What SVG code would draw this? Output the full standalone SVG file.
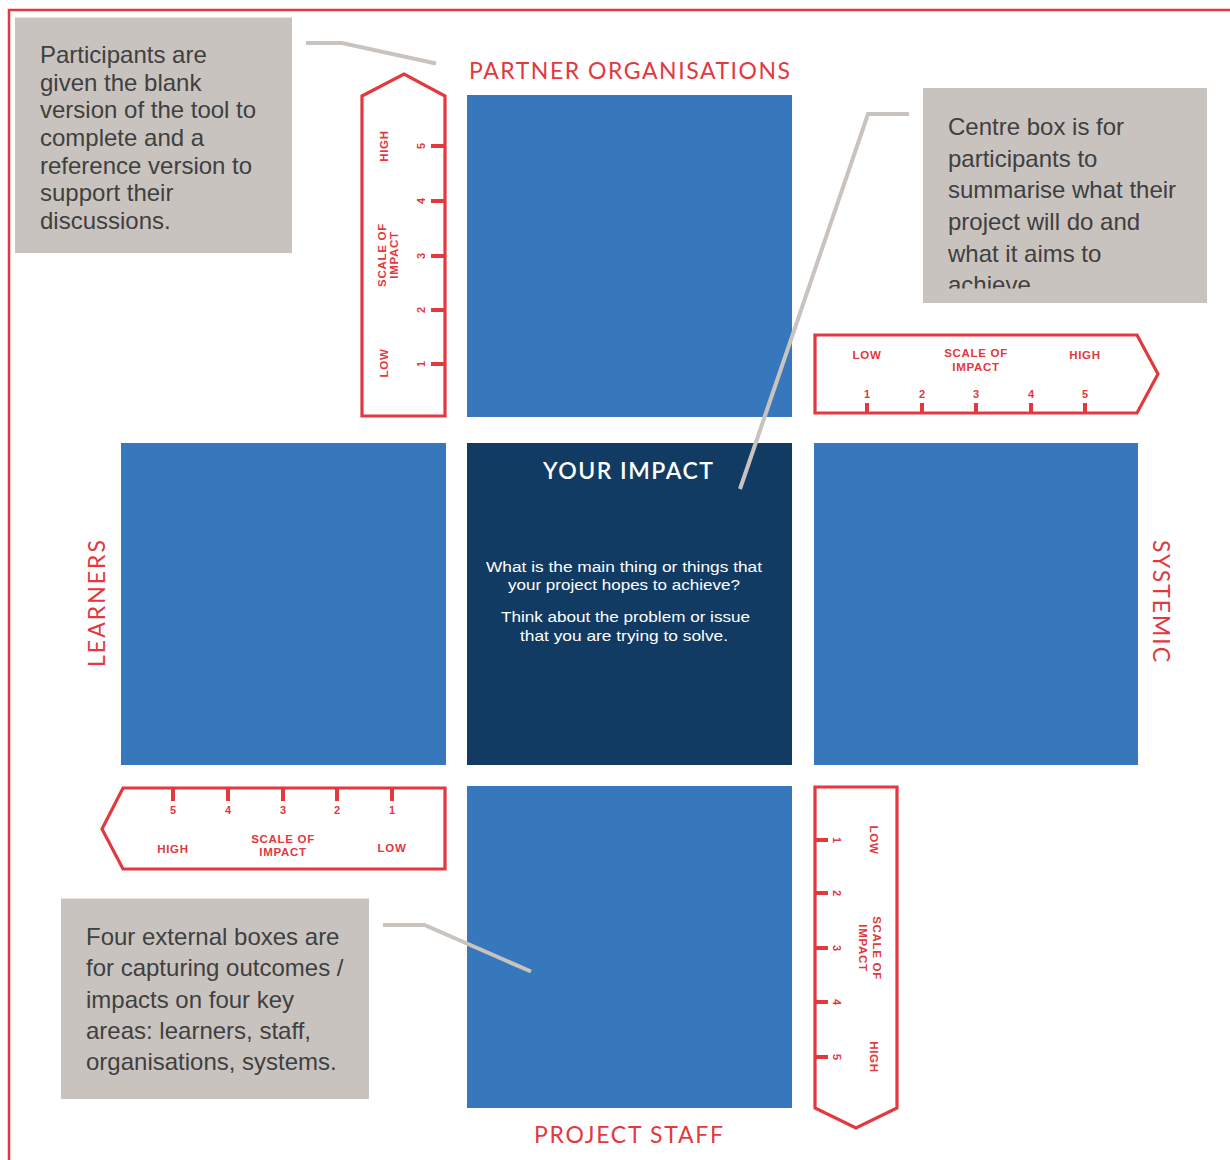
<svg xmlns="http://www.w3.org/2000/svg" width="1230" height="1160" viewBox="0 0 1230 1160">
<defs>
<style>
.box{fill:#3777bc}
.center{fill:#113b63}
.note{fill:#c9c3bf}
.notetxt{font-family:"Liberation Sans",Arial,sans-serif;font-size:24px;fill:#404040}
.head{font-family:Lato,"Liberation Sans",sans-serif;font-size:23px;fill:#e2383e}
.scale{fill:#fff;stroke:#e2383e;stroke-width:3.2;stroke-linejoin:miter}
.tick{stroke:#e2383e;stroke-width:4}
.sl{font-family:"Liberation Sans",Arial,sans-serif;font-size:11.5px;font-weight:bold;fill:#e2383e;letter-spacing:0.7px;text-anchor:middle}
.num{font-family:"Liberation Sans",Arial,sans-serif;font-size:11px;font-weight:bold;fill:#e2383e;text-anchor:middle}
.conn{fill:none;stroke:#c9c3bf;stroke-width:4}
.ctext{font-family:"Liberation Sans",Arial,sans-serif;font-size:15.5px;fill:#fff;text-anchor:middle}
</style>
<clipPath id="clipR"><rect x="923" y="88" width="284" height="200.5"/></clipPath>
</defs>
<rect width="1230" height="1160" fill="#fff"/>
<path d="M9,1160 V10 H1230" fill="none" stroke="#e2383e" stroke-width="2.5"/>

<g id="box-partner">
<rect class="box" x="467" y="95" width="325" height="322"/>
<text class="head" x="629.5" y="79" text-anchor="middle" textLength="321" lengthAdjust="spacing">PARTNER ORGANISATIONS</text>
</g>
<g id="box-learners">
<rect class="box" x="121" y="443" width="325" height="322"/>
<text class="head" x="105" y="603.5" text-anchor="middle" textLength="127" lengthAdjust="spacing" transform="rotate(-90 105 603.5)">LEARNERS</text>
</g>
<g id="box-center">
<rect class="center" x="467" y="443" width="325" height="322"/>
<text x="628" y="479" text-anchor="middle" textLength="170" lengthAdjust="spacing" style="font-family:Lato,'Liberation Sans',sans-serif;font-size:23px;font-weight:600;fill:#fff">YOUR IMPACT</text>
<text class="ctext" x="624" y="571.5" textLength="276" lengthAdjust="spacingAndGlyphs">What is the main thing or things that</text>
<text class="ctext" x="624" y="590" textLength="232" lengthAdjust="spacingAndGlyphs">your project hopes to achieve?</text>
<text class="ctext" x="625.5" y="621.5" textLength="249" lengthAdjust="spacingAndGlyphs">Think about the problem or issue</text>
<text class="ctext" x="624" y="640.5" textLength="208" lengthAdjust="spacingAndGlyphs">that you are trying to solve.</text>
</g>
<g id="box-systemic">
<rect class="box" x="814" y="443" width="324" height="322"/>
<text class="head" x="1153" y="601" text-anchor="middle" textLength="122" lengthAdjust="spacing" transform="rotate(90 1153 601)">SYSTEMIC</text>
</g>
<g id="box-staff">
<rect class="box" x="467" y="786" width="325" height="322"/>
<text class="head" x="628.5" y="1143" text-anchor="middle" textLength="189" lengthAdjust="spacing">PROJECT STAFF</text>
</g>

<g id="scale-top">
<polygon class="scale" points="362,96 404,74 445,96 445,416 362,416"/>
<g class="tick"><line x1="431" y1="146" x2="445" y2="146"/><line x1="431" y1="201" x2="445" y2="201"/><line x1="431" y1="256" x2="445" y2="256"/><line x1="431" y1="310" x2="445" y2="310"/><line x1="431" y1="364" x2="445" y2="364"/></g>
<text class="num" x="425" y="146" transform="rotate(-90 425 146)">5</text>
<text class="num" x="425" y="201" transform="rotate(-90 425 201)">4</text>
<text class="num" x="425" y="256" transform="rotate(-90 425 256)">3</text>
<text class="num" x="425" y="310" transform="rotate(-90 425 310)">2</text>
<text class="num" x="425" y="364" transform="rotate(-90 425 364)">1</text>
<text class="sl" x="388" y="146" transform="rotate(-90 388 146)">HIGH</text>
<text class="sl" x="386" y="255" transform="rotate(-90 386 255)">SCALE OF</text>
<text class="sl" x="398" y="255" transform="rotate(-90 398 255)">IMPACT</text>
<text class="sl" x="388" y="363" transform="rotate(-90 388 363)">LOW</text>
</g>

<g id="scale-right">
<polygon class="scale" points="815,335 1137,335 1158,374 1137,413 815,413"/>
<g class="tick"><line x1="867" y1="403" x2="867" y2="413"/><line x1="922" y1="403" x2="922" y2="413"/><line x1="976" y1="403" x2="976" y2="413"/><line x1="1031" y1="403" x2="1031" y2="413"/><line x1="1085" y1="403" x2="1085" y2="413"/></g>
<text class="num" x="867" y="398">1</text>
<text class="num" x="922" y="398">2</text>
<text class="num" x="976" y="398">3</text>
<text class="num" x="1031" y="398">4</text>
<text class="num" x="1085" y="398">5</text>
<text class="sl" x="867" y="359">LOW</text>
<text class="sl" x="976" y="357">SCALE OF</text>
<text class="sl" x="976" y="370.5">IMPACT</text>
<text class="sl" x="1085" y="359">HIGH</text>
</g>

<g id="scale-left">
<polygon class="scale" points="445,788 445,869 123,869 102,829 123,788"/>
<g class="tick"><line x1="173" y1="788" x2="173" y2="801"/><line x1="228" y1="788" x2="228" y2="801"/><line x1="283" y1="788" x2="283" y2="801"/><line x1="337" y1="788" x2="337" y2="801"/><line x1="392" y1="788" x2="392" y2="801"/></g>
<text class="num" x="173" y="814">5</text>
<text class="num" x="228" y="814">4</text>
<text class="num" x="283" y="814">3</text>
<text class="num" x="337" y="814">2</text>
<text class="num" x="392" y="814">1</text>
<text class="sl" x="173" y="853">HIGH</text>
<text class="sl" x="283" y="843">SCALE OF</text>
<text class="sl" x="283" y="855.5">IMPACT</text>
<text class="sl" x="392" y="852">LOW</text>
</g>

<g id="scale-bottom">
<polygon class="scale" points="815,787 897,787 897,1108 856,1128 815,1108"/>
<g class="tick"><line x1="815" y1="840" x2="828" y2="840"/><line x1="815" y1="893" x2="828" y2="893"/><line x1="815" y1="948" x2="828" y2="948"/><line x1="815" y1="1002" x2="828" y2="1002"/><line x1="815" y1="1057" x2="828" y2="1057"/></g>
<text class="num" x="833" y="840" transform="rotate(90 833 840)">1</text>
<text class="num" x="833" y="893" transform="rotate(90 833 893)">2</text>
<text class="num" x="833" y="948" transform="rotate(90 833 948)">3</text>
<text class="num" x="833" y="1002" transform="rotate(90 833 1002)">4</text>
<text class="num" x="833" y="1057" transform="rotate(90 833 1057)">5</text>
<text class="sl" x="870" y="840" transform="rotate(90 870 840)">LOW</text>
<text class="sl" x="873" y="948" transform="rotate(90 873 948)">SCALE OF</text>
<text class="sl" x="859" y="948" transform="rotate(90 859 948)">IMPACT</text>
<text class="sl" x="870" y="1057" transform="rotate(90 870 1057)">HIGH</text>
</g>

<g id="note-participants">
<rect class="note" x="15" y="17.5" width="277" height="235.5"/>
<text class="notetxt">
<tspan x="40" y="63.3">Participants are</tspan>
<tspan x="40" y="90.9">given the blank</tspan>
<tspan x="40" y="118.4">version of the tool to</tspan>
<tspan x="40" y="146">complete and a</tspan>
<tspan x="40" y="173.5">reference version to</tspan>
<tspan x="40" y="201">support their</tspan>
<tspan x="40" y="228.7">discussions.</tspan>
</text>
</g>
<g id="note-centre">
<rect class="note" x="923" y="88" width="284" height="215"/>
<text class="notetxt" clip-path="url(#clipR)">
<tspan x="948" y="135">Centre box is for</tspan>
<tspan x="948" y="166.7">participants to</tspan>
<tspan x="948" y="198.3">summarise what their</tspan>
<tspan x="948" y="230">project will do and</tspan>
<tspan x="948" y="261.7">what it aims to</tspan>
<tspan x="948" y="293.3">achieve</tspan>
</text>
</g>
<g id="note-external">
<rect class="note" x="61" y="898.5" width="308" height="200.5"/>
<text class="notetxt">
<tspan x="86" y="945">Four external boxes are</tspan>
<tspan x="86" y="976.3">for capturing outcomes /</tspan>
<tspan x="86" y="1007.5">impacts on four key</tspan>
<tspan x="86" y="1038.7">areas: learners, staff,</tspan>
<tspan x="86" y="1070">organisations, systems.</tspan>
</text>
</g>

<g id="connectors">
<polyline class="conn" points="306,43 342,43 436,63.5"/>
<polyline class="conn" points="909,114 868,114 740,489"/>
<polyline class="conn" points="383,925 424.5,925 531,971.5"/>
</g>
</svg>
